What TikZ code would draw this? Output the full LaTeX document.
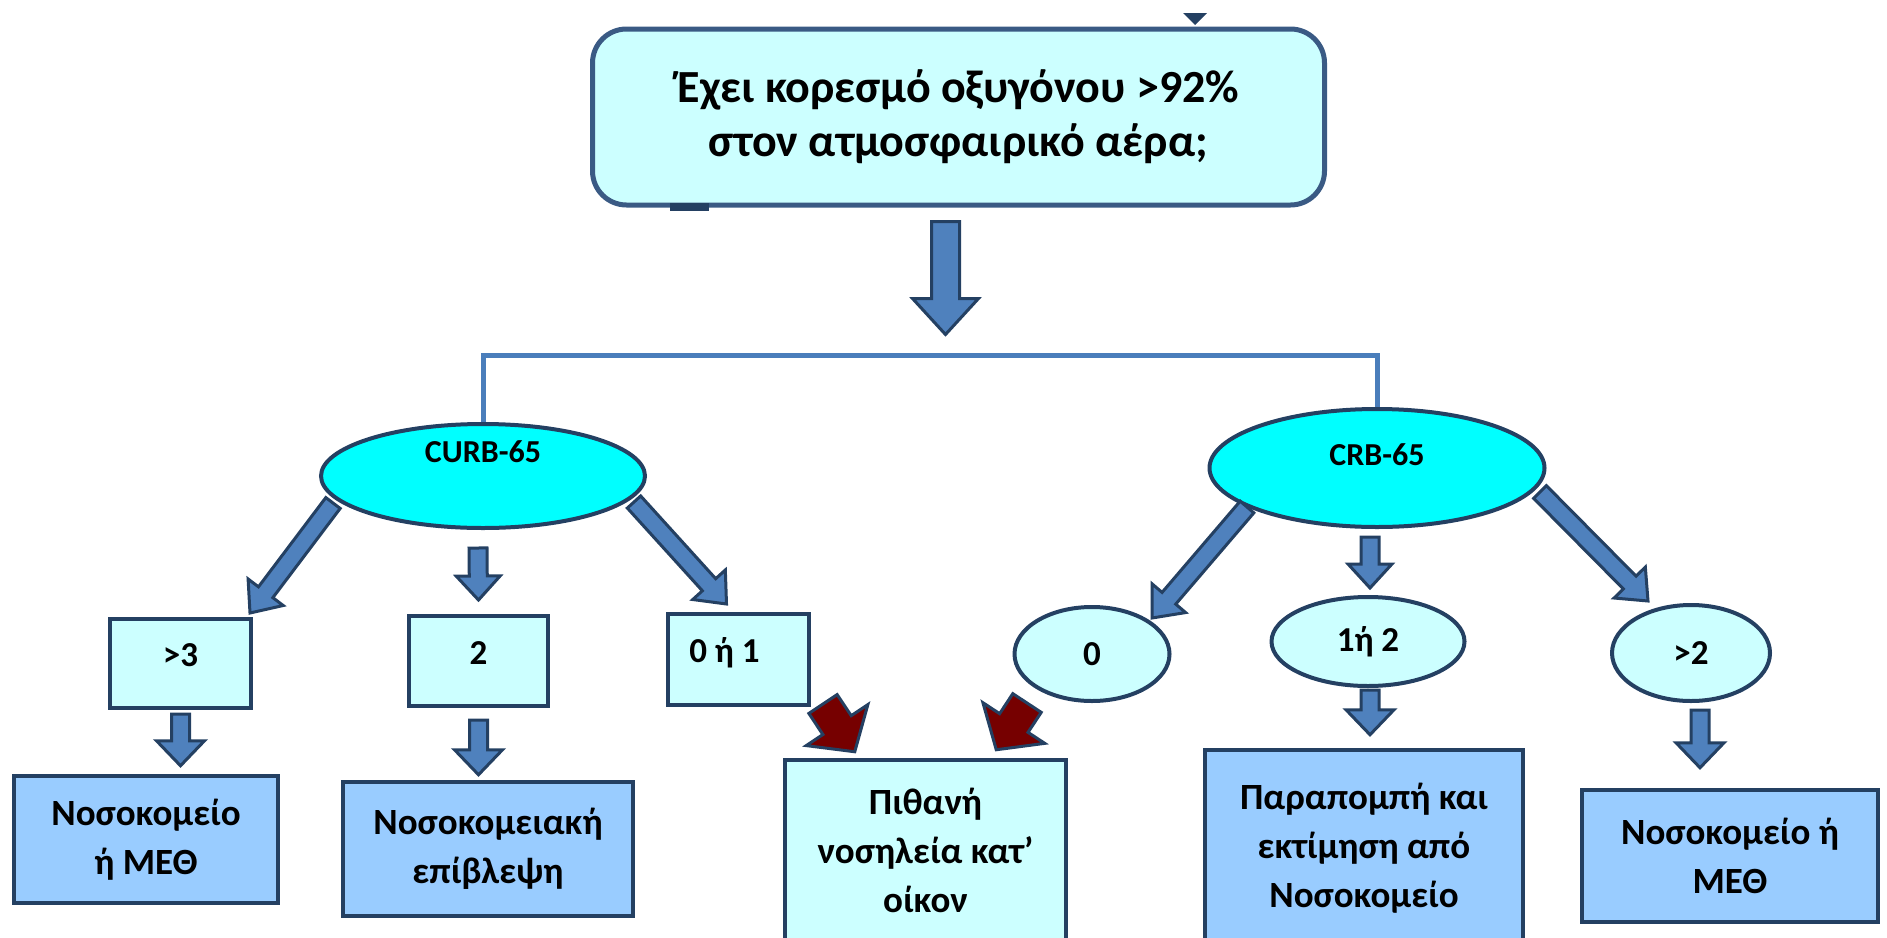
\documentclass[tikz,border=0pt]{standalone}
\usepackage{fontspec}
\setmainfont{Carlito}
\usepackage{xcolor}
\usetikzlibrary{calc,shapes.geometric}
\definecolor{boxBorder}{RGB}{36,64,98}
\definecolor{questionBorder}{RGB}{58,90,132}
\definecolor{scoreCyan}{RGB}{0,255,255}
\definecolor{paleCyan}{RGB}{204,255,255}
\definecolor{resultBlue}{RGB}{153,204,255}
\definecolor{arrowBlue}{RGB}{79,129,189}
\definecolor{linkBlue}{RGB}{74,126,187}
\definecolor{homeRed}{RGB}{118,0,0}

% block arrow: [fill]{start}{end}{shaft half width}{head half width}{head length}
\newcommand{\blockarrow}[6][arrowBlue]{%
  \coordinate (ba-s) at #2;
  \coordinate (ba-e) at #3;
  \coordinate (ba-h) at ($(ba-e)!#6!(ba-s)$);
  \filldraw[fill=#1,draw=boxBorder,line width=3pt,line join=miter]
    ($(ba-s)!#4!90:(ba-e)$) -- ($(ba-h)!#4!90:(ba-e)$) -- ($(ba-h)!#5!90:(ba-e)$)
    -- (ba-e) -- ($(ba-h)!#5!-90:(ba-e)$) -- ($(ba-h)!#4!-90:(ba-e)$)
    -- ($(ba-s)!#4!-90:(ba-e)$) -- cycle;
}

\begin{document}
\begin{tikzpicture}[x=1pt,y=-1pt,
    question/.style={draw=questionBorder,line width=5pt,fill=paleCyan,rounded corners=34pt,
      minimum width=732pt,minimum height=176pt,align=center,
      font=\bfseries\fontsize{46pt}{54pt}\selectfont},
    score/.style={ellipse,draw=boxBorder,line width=4pt,fill=scoreCyan,inner sep=0pt,
      text height=21pt,font=\bfseries\fontsize{32pt}{38pt}\selectfont},
    pointbox/.style={draw=boxBorder,line width=4pt,fill=paleCyan,inner sep=0pt,
      text height=26pt,text depth=20pt,font=\bfseries\fontsize{35pt}{42pt}\selectfont},
    pointoval/.style={ellipse,draw=boxBorder,line width=4pt,fill=paleCyan,inner sep=0pt,
      font=\bfseries\fontsize{35pt}{42pt}\selectfont},
    result/.style={draw=boxBorder,line width=4.5pt,fill=resultBlue,inner sep=0pt,align=center,
      font=\bfseries\fontsize{37pt}{49pt}\selectfont},
    linkline/.style={draw=linkBlue,line width=5pt}]
  \useasboundingbox (0,0) rectangle (1887,937);
  \clip (0,0) rectangle (1887,937);

  % Question
  \node[question] (q) at (958.5,117) {Έχει κορεσμό οξυγόνου >92\%\\στον ατμοσφαιρικό αέρα;};
  \fill[boxBorder] (1183,13) -- (1207,13) -- (1195,25) -- cycle;
  \fill[boxBorder] (670,203) rectangle (709,211);
  \coordinate (fork) at ($(q.south)+(-13,148)$);

  % Scores
  \node[score,minimum width=324pt,minimum height=104pt,text depth=48pt] (curb) at (483,476) {CURB-65};
  \node[score,minimum width=335pt,minimum height=118pt,text depth=27pt] (crb) at (1377,468) {CRB-65};

  % CURB-65 points
  \node[pointbox,minimum width=141pt,minimum height=89pt] (gt3) at (180.5,663.5) {>3};
  \node[pointbox,minimum width=139pt,minimum height=90pt] (two) at (478.5,661) {2};
  \node[pointbox,minimum width=141pt,minimum height=91pt] (zeroone) at (738.5,659.5) {0 ή 1\hspace*{28pt}};

  % CRB-65 points
  \node[pointoval,minimum width=155pt,minimum height=94pt] (zero) at (1092,654) {0};
  \node[pointoval,minimum width=193pt,minimum height=89pt] (onetwo) at (1368,641.5) {1ή 2};
  \node[pointoval,minimum width=158pt,minimum height=96pt] (gtwo) at (1691,653) {>2};

  % Outcomes
  \node[result,minimum width=264pt,minimum height=127pt] (hosp1) at (146,839.5) {Νοσοκομείο\\ή ΜΕΘ};
  \node[result,minimum width=290pt,minimum height=134pt] (ward) at (488,849) {Νοσοκομειακή\\επίβλεψη};
  \node[result,fill=paleCyan,minimum width=281pt,minimum height=180pt] (home) at (925.5,850) {Πιθανή\\νοσηλεία κατ’\\οίκον};
  \node[result,minimum width=318pt,minimum height=196pt] (refer) at (1364,848) {Παραπομπή και\\εκτίμηση από\\Νοσοκομείο};
  \node[result,minimum width=296pt,minimum height=132pt] (hosp2) at (1730,856) {Νοσοκομείο ή\\ΜΕΘ};

  \draw[linkline] (curb.north) |- (fork) -| (crb.north);

  \blockarrow{($(q.south)+(-13,14)$)}{($(fork)+(0,-21)$)}{14pt}{33pt}{36pt}

  \blockarrow{($(curb.south)+(-150,-27)$)}{($(gt3.north east)+(-3,-4)$)}{9pt}{22pt}{26pt}
  \blockarrow{($(curb.south)+(-5,18)$)}{($(two.north)+(0,-14)$)}{9pt}{22pt}{24pt}
  \blockarrow{($(curb.south)+(151,-28)$)}{($(zeroone.north)+(-12,-8)$)}{9pt}{22pt}{26pt}

  \blockarrow{($(crb.south)+(-130,-22)$)}{($(zero.north)+(60,13)$)}{9pt}{22pt}{26pt}
  \blockarrow{($(crb.south)+(-7,8)$)}{($(onetwo.north)+(2,-7)$)}{9pt}{22pt}{24pt}
  \blockarrow{($(crb.south)+(163,-37)$)}{($(gtwo.north)+(-43,-2)$)}{9pt}{22pt}{26pt}

  \blockarrow{($(gt3.south)+(0,4)$)}{($(gt3.south |- hosp1.north)+(0,-8)$)}{9pt}{24pt}{25pt}
  \blockarrow{($(two.south)+(0,12)$)}{($(two.south |- ward.north)+(0,-5)$)}{9pt}{24pt}{25pt}
  \blockarrow{($(onetwo.south)+(2,2)$)}{($(onetwo.south |- refer.north)+(2,-13)$)}{9pt}{24pt}{25pt}
  \blockarrow{($(gtwo.south)+(9,7)$)}{($(gtwo.south |- hosp2.north)+(9,-20)$)}{9pt}{24pt}{25pt}

  \blockarrow[homeRed]{($(zeroone.south east)+(12,-3)$)}{($(home.north west)+(72,-6)$)}{17pt}{37pt}{32pt}
  \blockarrow[homeRed]{($(zero.south)+(-65,0)$)}{($(home.north east)+(-72,-8)$)}{17pt}{37pt}{32pt}
\end{tikzpicture}
\end{document}
